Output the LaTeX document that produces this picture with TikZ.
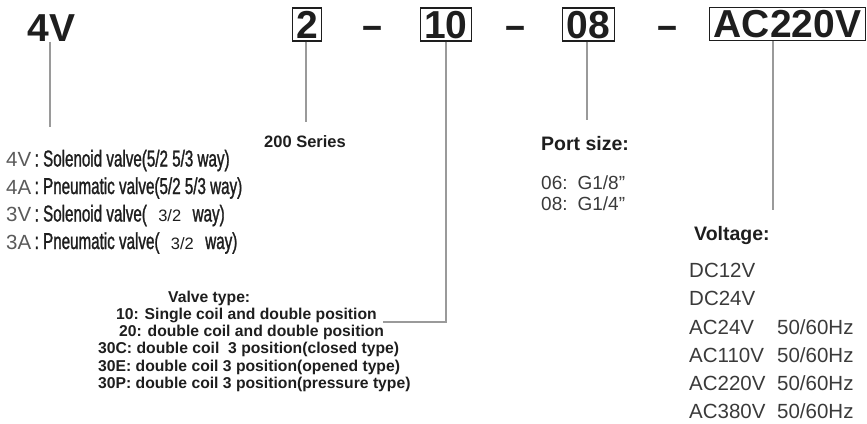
\documentclass[tikz,border=0pt]{standalone}
\usepackage{fontspec}
\setmainfont{Liberation Sans}
\newfontfamily\narrowfont[FakeStretch=0.66, FakeBold=1.2]{Liberation Sans}
\newfontfamily\dashfont[FakeBold=1.5]{Liberation Sans}
\usepackage{xcolor}
\usetikzlibrary{positioning}
\definecolor{code-dark}{HTML}{1E1E1E}
\definecolor{code-text}{HTML}{3A3A3A}
\definecolor{code-gray}{HTML}{5A5A5A}
\definecolor{code-line}{HTML}{9A9A9A}

\begin{document}
\begin{tikzpicture}[x=1pt, y=-1pt,
    codebox/.style={draw=code-dark, line width=1.3pt, font=\fontsize{39}{39}\selectfont\bfseries,
        text=code-dark, text height=27.9pt, text depth=0pt, inner xsep=4pt, inner ysep=2.5pt},
    codetext/.style={font=\fontsize{39}{39}\selectfont\bfseries, text=code-dark, inner sep=0pt},
    codedash/.style={font=\fontsize{34}{34}\dashfont\bfseries, text=code-dark, inner sep=0pt, anchor=base},
    lead/.style={draw=code-line, line width=1.2pt},
    head/.style={font=\fontsize{19.5}{19.5}\selectfont\bfseries, text=code-dark, inner sep=0pt, anchor=base west},
    item/.style={font=\fontsize{20.5}{20.5}\selectfont, text=code-text, inner sep=0pt, anchor=base west},
    kind/.style={font=\fontsize{20.5}{20.5}\selectfont, text=code-dark, inner sep=0pt, anchor=base west},
    vtype/.style={font=\fontsize{15.7}{15.7}\selectfont\bfseries, text=code-dark, inner sep=0pt, anchor=base west},
]
    \useasboundingbox (0,0) rectangle (867,423);

    % Part number
    \node[codetext] (series) at (51.5,28) {4V};
    \node[codebox] (sizebox) at (307,24.5) {2};
    \node[codedash] (dash1) at (372,37) {–};
    \node[codebox] (valvebox) at (446,24.5) {10};
    \node[codedash] (dash2) at (515,37) {–};
    \node[codebox] (portbox) at (588.5,24.5) {08};
    \node[codedash] (dash3) at (667,37) {–};
    \node[codebox] (voltbox) at (787.5,24) {AC220V};

    % Leader ends
    \coordinate (seriesend) at (50,127);
    \coordinate (sizeend) at (306,122);
    \coordinate (valveend) at (383,322);
    \coordinate (portend) at (587,120);
    \coordinate (voltend) at (773,210);

    \draw[lead] (seriesend |- series.south) -- (seriesend);
    \draw[lead] (sizeend |- sizebox.south) -- (sizeend);
    \draw[lead] (valvebox.south) |- (valveend);
    \draw[lead] (portend |- portbox.south) -- (portend);
    \draw[lead] (voltend |- voltbox.south) -- (voltend);

    % Series
    \node[font=\fontsize{16.5}{16.5}\selectfont\bfseries, text=code-dark, inner sep=0pt, anchor=base]
        (seriestext) at (305,147) {200 Series};

    % Valve kinds
    \node[kind] (kind4v) at (6,166.5) {\textcolor{code-gray}{4V}\,{\fontsize{23}{23}\narrowfont: Solenoid valve(5/2 5/3 way)}};
    \node[kind] (kind4a) at (6,194) {\textcolor{code-gray}{4A}\,{\fontsize{23}{23}\narrowfont: Pneumatic valve(5/2 5/3 way)}};
    \node[kind] (kind3v) at (6,221.5) {\textcolor{code-gray}{3V}\,{\fontsize{23}{23}\narrowfont: Solenoid valve(}\ \ {\fontsize{16.5}{16.5}\selectfont 3/2}\ \ {\fontsize{23}{23}\narrowfont way)}};
    \node[kind] (kind3a) at (6,249) {\textcolor{code-gray}{3A}\,{\fontsize{23}{23}\narrowfont: Pneumatic valve(}\ \ {\fontsize{16.5}{16.5}\selectfont 3/2}\ \ {\fontsize{23}{23}\narrowfont way)}};

    % Valve type
    \node[vtype] (vthead) at (168,302) {Valve type:};
    \node[vtype] (vt10) at (116,319) {10: Single coil and double position};
    \node[vtype] (vt20) at (119,336) {20: double coil and double position};
    \node[vtype] (vt30c) at (98,353) {30C: double coil \ 3 position(closed type)};
    \node[vtype] (vt30e) at (98,371) {30E: double coil 3 position(opened type)};
    \node[vtype] (vt30p) at (98,388) {30P: double coil 3 position(pressure type)};

    % Port size
    \node[head] (porthead) at (541,150) {Port size:};
    \node[item, font=\fontsize{19}{19}\selectfont] (port06) at (541,189) {06:\hspace{10pt}G1/8"};
    \node[item, font=\fontsize{19}{19}\selectfont] (port08) at (541,210) {08:\hspace{10pt}G1/4"};

    % Voltage
    \node[head] (volthead) at (694,240) {Voltage:};
    \node[item] (v1) at (689,277) {DC12V};
    \node[item] (v2) at (689,305) {DC24V};
    \node[item] (v3) at (689,334) {\makebox[88pt][l]{AC24V}50/60Hz};
    \node[item] (v4) at (689,362) {\makebox[88pt][l]{AC110V}50/60Hz};
    \node[item] (v5) at (689,390) {\makebox[88pt][l]{AC220V}50/60Hz};
    \node[item] (v6) at (689,418) {\makebox[88pt][l]{AC380V}50/60Hz};
\end{tikzpicture}
\end{document}
